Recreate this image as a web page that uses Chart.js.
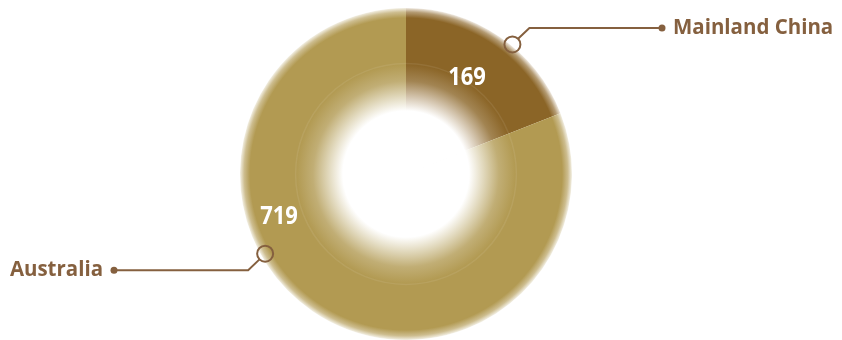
<!DOCTYPE html>
<html>
<head>
<meta charset="utf-8">
<script src="https://cdn.jsdelivr.net/npm/chart.js@4"></script>
<style>
  html, body { margin: 0; padding: 0; background: #ffffff; overflow: hidden; }
  #c { display: block; }
</style>
</head>
<body>
<canvas id="c" width="842" height="340"></canvas>
<script>
// ---- data ----
const categories = ["Mainland China", "Australia"];
const values = [169, 719];
const sliceColors = ["#8B6527", "#B29A52"];

// ---- styling helpers ----
const calloutColor = "#85603F";

function hexToRgb(h) {
  const n = parseInt(h.slice(1), 16);
  return [(n >> 16) & 255, (n >> 8) & 255, n & 255];
}
function mix(rgb, w) { // w = weight of white
  return rgb.map(c => Math.round(c * (1 - w) + 255 * w));
}

function sliceFill(ctx) {
  const chart = ctx.chart;
  const area = chart.chartArea;
  const base = sliceColors[ctx.dataIndex % sliceColors.length];
  if (!area) return base;
  const cx = (area.left + area.right) / 2;
  const cy = (area.top + area.bottom) / 2;
  const r = Math.min(area.right - area.left, area.bottom - area.top) / 2;
  const rgb = hexToRgb(base);
  const g = chart.ctx.createRadialGradient(cx, cy, 0, cx, cy, r);
  const s = (w) => { const m = mix(rgb, w); return `rgb(${m[0]},${m[1]},${m[2]})`; };
  g.addColorStop(0, "#ffffff");
  g.addColorStop(0.38, "#ffffff");
  g.addColorStop(0.47, s(0.6));
  g.addColorStop(0.56, s(0.2));
  g.addColorStop(0.66, s(0.0));
  g.addColorStop(0.94, s(0.0));
  g.addColorStop(0.975, s(0.35));
  g.addColorStop(1, s(0.85));
  return g;
}

// label placement per slice (fraction along slice angle, radius factor)
const valueLabelPos = [{ f: 0.47, rf: 0.69 }, { f: 0.629, rf: 0.805 }];
const markerPos = [{ f: 0.575, rf: 1.01, dir: 1 }, { f: 0.59, rf: 0.975, dir: -1 }];

const calloutPlugin = {
  id: "callouts",
  afterDatasetsDraw(chart) {
    const ctx = chart.ctx;
    const meta = chart.getDatasetMeta(0);
    ctx.save();
    // faint inner ring
    const a0 = meta.data[0];
    ctx.beginPath();
    ctx.arc(a0.x, a0.y, a0.outerRadius * 0.665, 0, Math.PI * 2);
    ctx.strokeStyle = "rgba(255,255,255,0.08)";
    ctx.lineWidth = 1.5;
    ctx.stroke();

    meta.data.forEach((arc, i) => {
      const span = arc.endAngle - arc.startAngle;
      // value label
      const vp = valueLabelPos[i];
      const va = arc.startAngle + span * vp.f;
      const vx = arc.x + Math.cos(va) * arc.outerRadius * vp.rf;
      const vy = arc.y + Math.sin(va) * arc.outerRadius * vp.rf;
      ctx.save();
      ctx.translate(vx, vy);
      ctx.scale(0.88, 1);
      ctx.font = "bold 25px 'Open Sans'";
      ctx.fillStyle = "#ffffff";
      ctx.textAlign = "center";
      ctx.textBaseline = "middle";
      ctx.fillText(String(values[i]), 0, 1);
      ctx.restore();

      // marker + leader line
      const mp = markerPos[i];
      const ma = arc.startAngle + span * mp.f;
      const mx = arc.x + Math.cos(ma) * arc.outerRadius * mp.rf;
      const my = arc.y + Math.sin(ma) * arc.outerRadius * mp.rf;
      const mr = 8;
      ctx.strokeStyle = calloutColor;
      ctx.fillStyle = calloutColor;
      ctx.lineWidth = 2;
      ctx.beginPath();
      ctx.arc(mx, my, mr, 0, Math.PI * 2);
      ctx.stroke();
      const d = mp.dir;
      const k = Math.SQRT1_2;
      const sx = mx + d * mr * k, sy = my - d * mr * k;
      const ex = mx + d * 17, ey = my - d * 16.5;
      const endX = d > 0 ? 662 : 114;
      ctx.beginPath();
      ctx.moveTo(sx, sy);
      ctx.lineTo(ex, ey);
      ctx.lineTo(endX, ey);
      ctx.stroke();
      ctx.beginPath();
      ctx.arc(endX, ey, 3.5, 0, Math.PI * 2);
      ctx.fill();

      // category text
      ctx.save();
      ctx.font = "bold 22px 'Open Sans'";
      ctx.textBaseline = "middle";
      const tx = d > 0 ? endX + 11 : endX - 11;
      ctx.translate(tx, ey);
      ctx.scale(0.93, 1);
      ctx.textAlign = d > 0 ? "left" : "right";
      ctx.fillText(categories[i], 0, 0);
      ctx.restore();
    });
    ctx.restore();
  }
};

new Chart(document.getElementById("c"), {
  type: "pie",
  data: {
    labels: categories,
    datasets: [{
      data: values,
      backgroundColor: sliceFill,
      borderWidth: 0,
      hoverOffset: 0
    }]
  },
  options: {
    responsive: false,
    animation: false,
    layout: { padding: { top: 8, bottom: 0, left: 0, right: 30 } },
    plugins: { legend: { display: false }, tooltip: { enabled: false } }
  },
  plugins: [calloutPlugin]
});
</script>
</body>
</html>
